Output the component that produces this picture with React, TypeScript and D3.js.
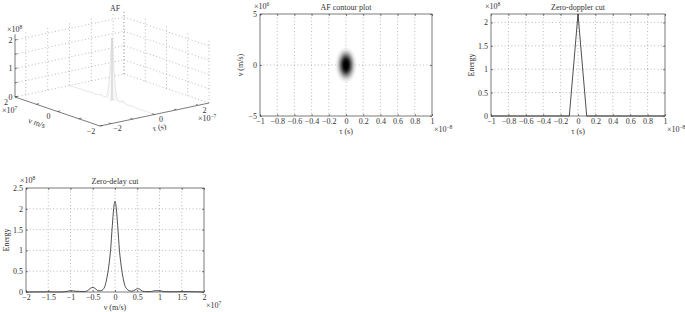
import React, { useEffect, useRef } from 'react';
import * as d3 from 'd3';

// zero-doppler cut: tau in 1e-8 s, energy in 1e8
const dopplerTau = [-1, -0.1, 0, 0.1, 1];
const dopplerEnergy = [0, 0, 2.18, 0, 0];

// zero-delay cut: nu in 1e7 m/s, energy in 1e8
const delayNu = [
  -2, -1.5, -1.25, -1.1, -1.0, -0.9, -0.8, -0.7, -0.62, -0.55, -0.5, -0.45, -0.38, -0.32, -0.27,
  -0.22, -0.18, -0.14, -0.1, -0.06, -0.03, 0, 0.03, 0.06, 0.1, 0.14, 0.18, 0.22, 0.27, 0.32, 0.38,
  0.45, 0.5, 0.55, 0.62, 0.7, 0.8, 0.9, 1.0, 1.1, 1.25, 1.5, 2,
];
const delayEnergy = [
  0, 0.005, 0.0, 0.01, 0.03, 0.02, 0.015, 0.01, 0.03, 0.09, 0.11, 0.09, 0.03, 0.03, 0.06,
  0.16, 0.35, 0.62, 1.0, 1.6, 2.0, 2.18, 2.0, 1.6, 1.0, 0.62, 0.35, 0.16, 0.07, 0.03, 0.02,
  0.05, 0.08, 0.07, 0.02, 0.01, 0.01, 0.03, 0.03, 0.01, 0.005, 0.01, 0,
];

// contour blob levels: tau half-width (1e-8 s), nu half-height (1e6 m/s), shade
const blobTau = [0.115, 0.1, 0.088, 0.076, 0.064, 0.052, 0.04];
const blobNu = [1.65, 1.45, 1.27, 1.1, 0.92, 0.75, 0.58];
const blobShade = ['#ededed', '#d2d2d2', '#acacac', '#7e7e7e', '#4e4e4e', '#1e1e1e', '#000'];

// tick labels
const contourTauTicks = [-1, -0.8, -0.6, -0.4, -0.2, 0, 0.2, 0.4, 0.6, 0.8, 1];
const contourNuTicks = [-5, 0, 5];
const dopplerTauTicks = [-1, -0.8, -0.6, -0.4, -0.2, 0, 0.2, 0.4, 0.6, 0.8, 1];
const dopplerEnergyTicks = [0, 0.5, 1, 1.5, 2];
const delayNuTicks = [-2, -1.5, -1, -0.5, 0, 0.5, 1, 1.5, 2];
const delayEnergyTicks = [0, 0.5, 1, 1.5, 2, 2.5];

// 3-D view ticks: tau in 1e-7 s, nu in 1e7 m/s, energy in 1e8
const af3dTauTicks = [-2, -1, 0, 1, 2];
const af3dTauLabels = [-2, 0, 2];
const af3dNuTicks = [-2, -1, 0, 1, 2];
const af3dNuLabels = [2, 0, -2];
const af3dZTicks = [0, 0.5, 1, 1.5, 2];
const af3dZLabels = [0, 1, 2];

const FONT = '"Liberation Serif", "Times New Roman", serif';
const INK = '#333';
const GRID = '#8a8a8a';
const fmt = d3.format('~g');

function expLabel(g: any, x: number, y: number, exp: string) {
  const t = g.append('text').attr('x', x).attr('y', y).attr('fill', INK);
  t.append('tspan').text('×10');
  t.append('tspan').attr('dy', -3).attr('font-size', 5.5).text(exp);
}

function drawPanel(svg: any, p: any) {
  const x = d3.scaleLinear().domain(p.xDomain).range([p.left, p.right]);
  const y = d3.scaleLinear().domain(p.yDomain).range([p.bottom, p.top]);
  const g = svg.append('g');

  // grid
  g.selectAll('.gx')
    .data(p.xGrid)
    .enter()
    .append('line')
    .attr('x1', (d: number) => x(d))
    .attr('x2', (d: number) => x(d))
    .attr('y1', p.top)
    .attr('y2', p.bottom)
    .attr('stroke', GRID)
    .attr('stroke-width', 0.6)
    .attr('stroke-dasharray', '1 2.4');
  g.selectAll('.gy')
    .data(p.yGrid)
    .enter()
    .append('line')
    .attr('y1', (d: number) => y(d))
    .attr('y2', (d: number) => y(d))
    .attr('x1', p.left)
    .attr('x2', p.right)
    .attr('stroke', GRID)
    .attr('stroke-width', 0.6)
    .attr('stroke-dasharray', '1 2.4');

  p.content(g, x, y);

  const style = (a: any) => {
    a.attr('font-size', 8).attr('font-family', FONT).attr('color', INK);
    a.select('.domain').remove();
    a.selectAll('line').attr('stroke-width', 0.6);
  };
  g.append('g')
    .attr('transform', `translate(0,${p.bottom})`)
    .call(d3.axisBottom(x).tickValues(p.xTicks).tickSize(-2).tickPadding(2.5).tickFormat(fmt))
    .call(style);
  g.append('g')
    .attr('transform', `translate(0,${p.top})`)
    .call(d3.axisTop(x).tickValues(p.xTicks).tickSize(-2).tickFormat(() => ''))
    .call(style);
  g.append('g')
    .attr('transform', `translate(${p.left},0)`)
    .call(d3.axisLeft(y).tickValues(p.yTicks).tickSize(-2).tickPadding(3).tickFormat(fmt))
    .call(style);
  g.append('g')
    .attr('transform', `translate(${p.right},0)`)
    .call(d3.axisRight(y).tickValues(p.yTicks).tickSize(-2).tickFormat(() => ''))
    .call(style);

  g.append('rect')
    .attr('x', p.left)
    .attr('y', p.top)
    .attr('width', p.right - p.left)
    .attr('height', p.bottom - p.top)
    .attr('fill', 'none')
    .attr('stroke', '#444')
    .attr('stroke-width', 0.7);

  const cx = (p.left + p.right) / 2;
  g.append('text').attr('x', cx).attr('y', p.top - 4).attr('text-anchor', 'middle').attr('fill', INK).text(p.title);
  g.append('text').attr('x', cx).attr('y', p.bottom + 18).attr('text-anchor', 'middle').attr('fill', INK).text(p.xlabel);
  g.append('text')
    .attr('transform', `translate(${p.left - 17.5},${(p.top + p.bottom) / 2}) rotate(-90)`)
    .attr('text-anchor', 'middle')
    .attr('fill', INK)
    .text(p.ylabel);
  expLabel(g, p.left - 6, p.top - 5, p.yExp);
  expLabel(g, p.right + 2, p.bottom + 16, p.xExp);
}

function drawAF3d(svg: any) {
  const g = svg.append('g');
  const u = d3.scaleLinear().domain([-2.5, 2.5]).range([0, 1]);
  const v = d3.scaleLinear().domain([2, -2]).range([0, 1]);
  const w = d3.scaleLinear().domain([0, 1]).range([0, -28.5]);
  const L = [15, 97];
  const T = [109, -23];
  const N = [85, 29];
  const zTop = 2.2;
  const proj = (t: number, n: number, z: number): [number, number] => [
    L[0] + u(t) * T[0] + v(n) * N[0],
    L[1] + u(t) * T[1] + v(n) * N[1] + w(z),
  ];
  const seg = (a: [number, number], b: [number, number], dotted: boolean, color = GRID) =>
    g.append('line')
      .attr('x1', a[0]).attr('y1', a[1]).attr('x2', b[0]).attr('y2', b[1])
      .attr('stroke', color)
      .attr('stroke-width', dotted ? 0.6 : 0.7)
      .attr('stroke-dasharray', dotted ? '1 2.4' : null);

  // back-left wall (nu = 2)
  [...af3dTauTicks, 2.5].forEach((t) => seg(proj(t, 2, 0), proj(t, 2, zTop), true));
  af3dZTicks.forEach((z) => seg(proj(-2.5, 2, z), proj(2.5, 2, z), true));
  // back-right wall (tau = 2.5)
  af3dNuTicks.forEach((n) => seg(proj(2.5, n, 0), proj(2.5, n, zTop), true));
  af3dZTicks.forEach((z) => seg(proj(2.5, 2, z), proj(2.5, -2, z), true));

  // faint surface spike: zero-delay and zero-doppler cuts
  const spike = d3.line<[number, number]>();
  g.append('path')
    .attr('d', spike(delayNu.map((n, i) => proj(0, n, delayEnergy[i]))))
    .attr('fill', '#f7f7f7')
    .attr('stroke', '#d8d8d8')
    .attr('stroke-width', 0.6);
  g.append('path')
    .attr('d', spike(dopplerTau.map((t, i) => proj(t / 10, 0, dopplerEnergy[i]))))
    .attr('fill', 'none')
    .attr('stroke', '#cfcfcf')
    .attr('stroke-width', 0.7);

  // axes
  seg(proj(-2.5, 2, 0), proj(-2.5, 2, zTop), false, '#444');
  seg(proj(-2.5, 2, 0), proj(-2.5, -2, 0), false, '#444');
  seg(proj(-2.5, -2, 0), proj(2.5, -2, 0), false, '#444');

  af3dZTicks.forEach((z) => {
    const a = proj(-2.5, 2, z);
    seg(a, [a[0] + 2.5, a[1] - 0.5], false, '#444');
  });
  af3dNuTicks.forEach((n) => {
    const a = proj(-2.5, n, 0);
    seg(a, [a[0] + 2.8, a[1] - 0.6], false, '#444');
  });
  af3dTauTicks.forEach((t) => {
    const a = proj(t, -2, 0);
    seg(a, [a[0] - 2.2, a[1] - 0.8], false, '#444');
  });

  const txt = (x: number, y: number, s: string, anchor = 'middle') =>
    g.append('text').attr('x', x).attr('y', y).attr('text-anchor', anchor).attr('fill', INK).text(s);

  af3dZLabels.forEach((z) => {
    const a = proj(-2.5, 2, z);
    txt(a[0] - 2.5, a[1] + 2.8, fmt(z), 'end');
  });
  af3dNuLabels.forEach((n) => {
    const a = proj(-2.5, n, 0);
    txt(a[0] - 9, a[1] + 7.5, fmt(n));
  });
  af3dTauLabels.forEach((t) => {
    const a = proj(t, -2, 0);
    txt(a[0] + 6.5, a[1] + 7.4, fmt(t));
  });

  txt(115, 10.7, 'AF');
  expLabel(g, 7, 32, '8');
  expLabel(g, 2, 112.5, '7');
  expLabel(g, 198, 121, '−7');
  g.append('text')
    .attr('transform', 'translate(36,125.5) rotate(19)')
    .attr('text-anchor', 'middle')
    .attr('fill', INK)
    .text('ν m/s');
  g.append('text')
    .attr('transform', 'translate(160,130) rotate(-12)')
    .attr('text-anchor', 'middle')
    .attr('fill', INK)
    .text('τ (s)');
}

export default function App() {
  const ref = useRef<SVGSVGElement>(null);

  useEffect(() => {
    const svg = d3.select(ref.current);
    svg.selectAll('*').remove();
    svg.attr('font-family', FONT).attr('font-size', 8);

    const defs = svg.append('defs');
    defs.append('filter')
      .attr('id', 'blur')
      .attr('x', '-50%').attr('y', '-50%').attr('width', '200%').attr('height', '200%')
      .append('feGaussianBlur')
      .attr('stdDeviation', 1.3);

    drawAF3d(svg);

    drawPanel(svg, {
      left: 260, right: 432, top: 14, bottom: 116,
      xDomain: [-1, 1], yDomain: [-5, 5],
      xTicks: contourTauTicks, yTicks: contourNuTicks,
      xGrid: contourTauTicks.slice(1, -1), yGrid: [0],
      title: 'AF contour plot', xlabel: 'τ (s)', ylabel: 'ν (m/s)', xExp: '−8', yExp: '6',
      content: (g: any, x: any, y: any) => {
        const blob = g.append('g').attr('filter', 'url(#blur)');
        blob.selectAll('ellipse')
          .data(blobTau)
          .enter()
          .append('ellipse')
          .attr('cx', x(0))
          .attr('cy', y(0))
          .attr('rx', (d: number) => x(d) - x(0))
          .attr('ry', (_: number, i: number) => y(0) - y(blobNu[i]))
          .attr('fill', (_: number, i: number) => blobShade[i]);
      },
    });

    drawPanel(svg, {
      left: 491, right: 665, top: 14, bottom: 116,
      xDomain: [-1, 1], yDomain: [0, 2.18],
      xTicks: dopplerTauTicks, yTicks: dopplerEnergyTicks,
      xGrid: dopplerTauTicks.slice(1, -1), yGrid: dopplerEnergyTicks.slice(1),
      title: 'Zero-doppler cut', xlabel: 'τ (s)', ylabel: 'Energy', xExp: '−8', yExp: '8',
      content: (g: any, x: any, y: any) => {
        const line = d3.line<number>().x((d) => x(d)).y((_, i) => y(dopplerEnergy[i]));
        g.append('path').attr('d', line(dopplerTau)).attr('fill', 'none').attr('stroke', '#222').attr('stroke-width', 0.8);
      },
    });

    drawPanel(svg, {
      left: 26, right: 204, top: 188, bottom: 292,
      xDomain: [-2, 2], yDomain: [0, 2.5],
      xTicks: delayNuTicks, yTicks: delayEnergyTicks,
      xGrid: delayNuTicks.slice(1, -1), yGrid: delayEnergyTicks.slice(1, -1),
      title: 'Zero-delay cut', xlabel: 'ν (m/s)', ylabel: 'Energy', xExp: '7', yExp: '8',
      content: (g: any, x: any, y: any) => {
        const line = d3.line<number>().x((d) => x(d)).y((_, i) => y(delayEnergy[i])).curve(d3.curveMonotoneX);
        g.append('path').attr('d', line(delayNu)).attr('fill', 'none').attr('stroke', '#222').attr('stroke-width', 0.8);
      },
    });
  }, []);

  return (
    <svg
      ref={ref}
      width={685}
      height={312}
      style={{ position: 'absolute', left: 0, top: 0, background: '#fff' }}
    />
  );
}
